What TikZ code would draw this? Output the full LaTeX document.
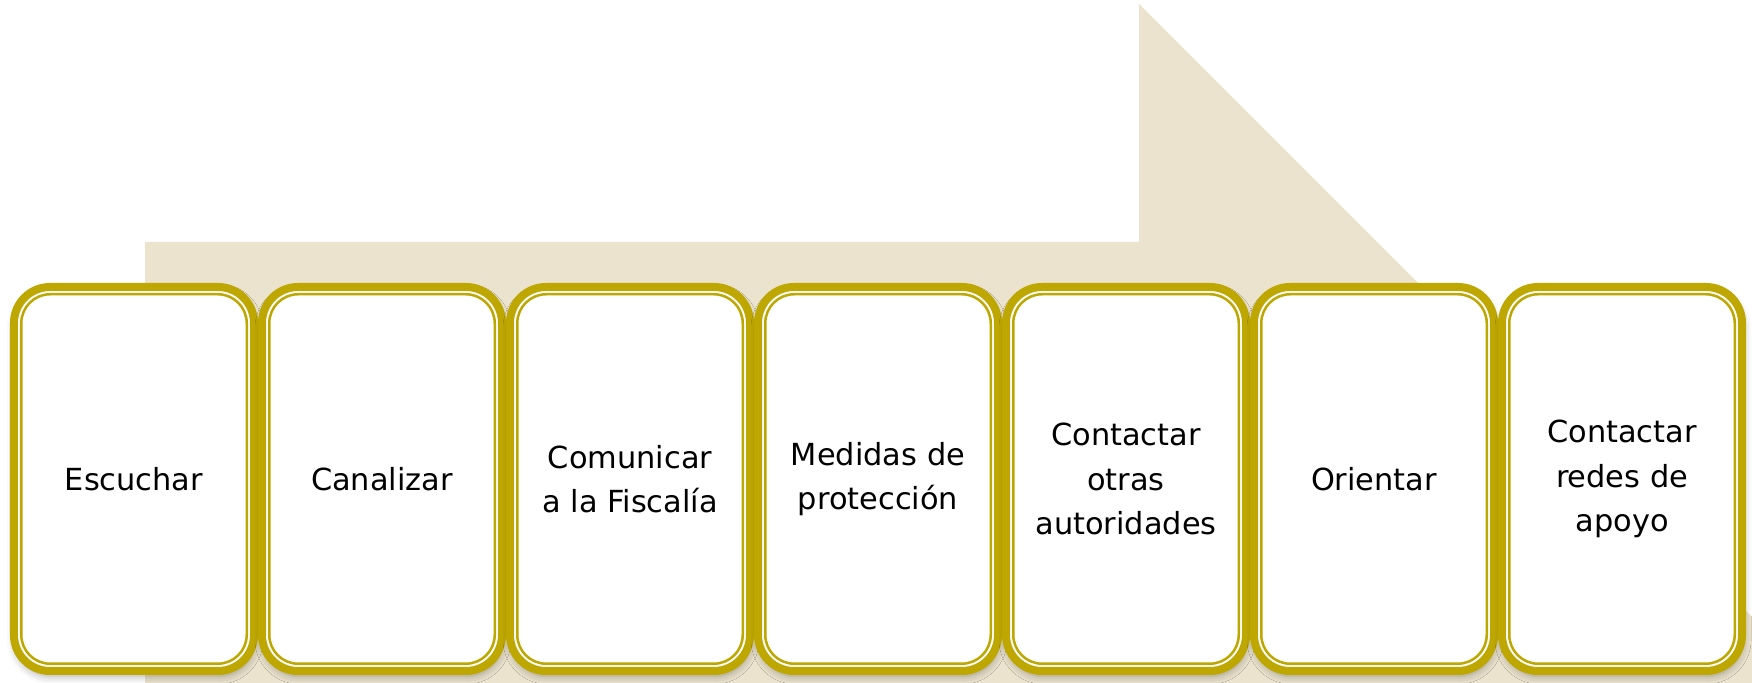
\documentclass[tikz,border=0pt]{standalone}
\usepackage{fontspec}
\setmainfont{DejaVu Sans}
\usetikzlibrary{positioning,shadows.blur}
\definecolor{oro}{RGB}{189,167,0}
\definecolor{arena}{RGB}{235,227,205}
\tikzset{
  paso/.style={rectangle, rounded corners=0.72cm, draw=oro, line width=0.16cm,
    fill=white, minimum width=4.8cm, minimum height=7.68cm, align=center,
    font=\fontsize{17.3}{25.4}\selectfont,
    blur shadow={shadow xshift=0.02cm, shadow yshift=-0.1cm,
      shadow blur radius=0.16cm, shadow opacity=35}},
  filete/.style={draw=oro, line width=0.05cm, rounded corners=0.58cm}
}

\begin{document}
\begin{tikzpicture}
\useasboundingbox (0,0) rectangle (35.04,13.66);
\clip (0,0) rectangle (35.04,13.66);
% big arrow behind the steps
\fill[arena] (2.9,-1) -- (2.9,8.82) -- (22.78,8.82) -- (22.78,13.58) -- (37.36,-1) -- cycle;
% steps
\node[paso] (escuchar) at (2.68,4.08) {Escuchar};
\node[paso, right=0cm of escuchar] (canalizar) {Canalizar};
\node[paso, right=0cm of canalizar] (comunicar) {Comunicar\\a la Fiscalía};
\node[paso, right=0cm of comunicar] (medidas) {Medidas de\\protección};
\node[paso, right=0cm of medidas] (contactar) {Contactar\\otras\\autoridades};
\node[paso, right=0cm of contactar] (orientar) {Orientar};
\node[paso, right=0cm of orientar] (redes) {Contactar\\redes de\\apoyo};
% thin inner line
\foreach \n in {escuchar,canalizar,comunicar,medidas,contactar,orientar,redes}
  \draw[filete] ([shift={(0.225,0.225)}]\n.south west) rectangle ([shift={(-0.225,-0.225)}]\n.north east);
\end{tikzpicture}
\end{document}
